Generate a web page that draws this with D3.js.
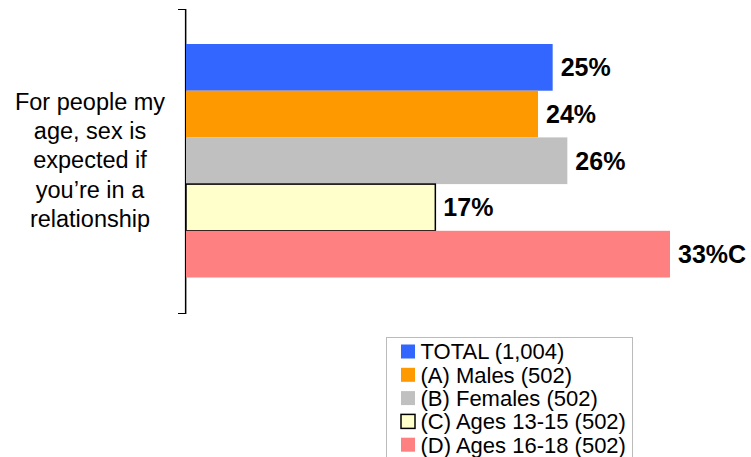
<!DOCTYPE html>
<html lang='en'>
  <head>
    <meta charset='utf-8'>
    <title>Bar chart</title>
    <script src='https://d3js.org/d3.v7.min.js'></script>
    <style>
      html, body { margin: 0; padding: 0; background: #fff; }
      svg text { font-family: 'Liberation Sans', Arial, sans-serif; }
    </style>
  </head>
  <body>
    <div class='vis'></div>
    <script>
      // data
      const series = ['TOTAL (1,004)', '(A) Males (502)', '(B) Females (502)', '(C) Ages 13-15 (502)', '(D) Ages 16-18 (502)'];
      const values = [25, 24, 26, 17, 33];
      const sigLetters = ['', '', '', '', 'C'];
      const colors = ['#3366FF', '#FF9900', '#C0C0C0', '#FFFFCC', '#FF8080'];
      const categoryLines = ['For people my', 'age, sex is', 'expected if', 'you\u2019re in a', 'relationship'];

      const width = 751, height = 457;

      const svg = d3.select('.vis')
        .append('svg')
          .attr('width', width)
          .attr('height', height);

      const xScale = d3.scaleLinear()
        .domain([0, 33])
        .range([186, 670]);

      const yScale = d3.scaleBand()
        .domain(series)
        .range([44, 277.5])
        .padding(0);

      // axis line with end ticks
      svg.append('path')
        .attr('d', 'M178,9.5H185.5V313.5H178')
        .attr('fill', 'none')
        .attr('stroke', '#000')
        .attr('stroke-width', 1.2);
      svg.append('line')
        .attr('x1', 186.5).attr('x2', 186.5)
        .attr('y1', 9).attr('y2', 314)
        .attr('stroke', '#999')
        .attr('stroke-width', 1);

      // bars
      svg.selectAll('rect.bar')
        .data(series).enter()
        .append('rect')
          .attr('class', 'bar')
          .attr('x', xScale(0))
          .attr('y', (d) => yScale(d))
          .attr('width', (d, i) => xScale(values[i]) - xScale(0))
          .attr('height', yScale.bandwidth())
          .attr('fill', (d, i) => colors[i])
          .attr('stroke', (d, i) => i === 3 ? '#000' : 'none')
          .attr('stroke-width', 1.5);

      // value labels
      svg.selectAll('text.val')
        .data(series).enter()
        .append('text')
          .attr('class', 'val')
          .attr('x', (d, i) => xScale(values[i]) + 8)
          .attr('y', (d) => yScale(d) + yScale.bandwidth() / 2)
          .attr('dy', '0.35em')
          .style('font-size', '25px')
          .style('font-weight', 'bold')
          .text((d, i) => values[i] + '%' + sigLetters[i]);

      // category label
      svg.append('text')
        .attr('text-anchor', 'middle')
        .style('font-size', '23.5px')
        .style('fill', '#000')
        .selectAll('tspan')
        .data(categoryLines).enter()
        .append('tspan')
          .attr('x', 90)
          .attr('y', (d, i) => 109.5 + i * 29.4)
          .text((d) => d);

      // legend
      const legend = svg.append('g')
        .attr('transform', 'translate(386,337)');

      legend.append('rect')
        .attr('x', 0.5).attr('y', 0.5)
        .attr('width', 246).attr('height', 124)
        .attr('fill', '#fff')
        .attr('stroke', '#bbb');

      const rows = legend.selectAll('g.row')
        .data(series).enter()
        .append('g')
          .attr('class', 'row')
          .attr('transform', (d, i) => 'translate(0,' + (14.5 + i * 23.3) + ')');

      rows.append('rect')
        .attr('x', 15)
        .attr('y', -7)
        .attr('width', 14)
        .attr('height', 14)
        .attr('fill', (d, i) => colors[i])
        .attr('stroke', (d, i) => i === 3 ? '#000' : 'none')
        .attr('stroke-width', 1.5);

      rows.append('text')
        .attr('x', 34.5)
        .attr('y', 0)
        .attr('dy', '0.36em')
        .style('font-size', '22px')
        .style('fill', '#000')
        .text((d) => d);
    </script>
  </body>
</html>
